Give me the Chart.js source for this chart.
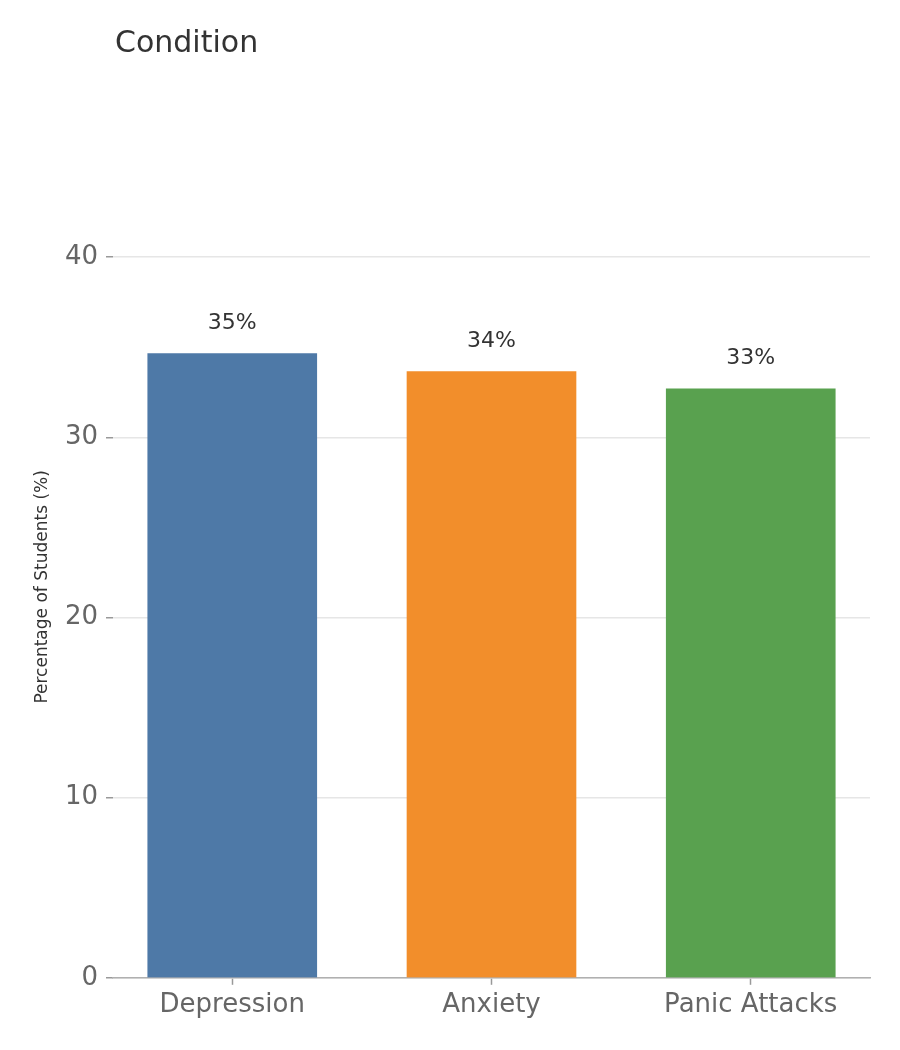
<!DOCTYPE html>
<html>
<head>
  <title>Condition</title>
  <script src="https://cdn.jsdelivr.net/npm/chart.js"></script>
  <style>
    body { margin: 0; background: #fff; }
    #wrap { width: 900px; height: 1050px; }
  </style>
</head>
<body>
  <div id="wrap"><canvas id="condChart" width="900" height="1050"></canvas></div>

  <script>
    const categories = ["Depression", "Anxiety", "Panic Attacks"];
    const percentages = [34.65, 33.65, 32.7];
    const barColors = ["#4e79a7", "#f28e2b", "#59a14f"];
    const yTicks = [0, 10, 20, 30, 40];

    const FONT = "'DejaVu Sans', sans-serif";

    // title top left + value labels over bars
    const extras = {
      id: "extras",
      afterDatasetsDraw(chart) {
        const ctx = chart.ctx;
        ctx.save();
        ctx.fillStyle = "#333";
        ctx.font = "22px " + FONT;
        ctx.textAlign = "center";
        ctx.textBaseline = "middle";
        chart.getDatasetMeta(0).data.forEach((bar, i) => {
          ctx.fillText(Math.round(percentages[i]) + "%", bar.x, bar.y - 30);
        });
        ctx.textAlign = "left";
        ctx.font = "30px " + FONT;
        ctx.fillText("Condition", chart.chartArea.left + 2, 44);
        ctx.restore();
      }
    };

    new Chart(document.getElementById("condChart"), {
      type: "bar",
      data: {
        datasets: [{
          data: categories.map((c, i) => ({ x: i, y: percentages[i] })),
          backgroundColor: barColors,
          barThickness: 169
        }]
      },
      plugins: [extras],
      options: {
        responsive: false,
        animation: false,
        layout: { padding: { top: 196, right: 30, bottom: 24, left: 0 } },
        plugins: { legend: { display: false }, tooltip: { enabled: false } },
        scales: {
          x: {
            type: "linear",
            min: -0.46,
            max: 2.46,
            offset: false,
            afterBuildTicks: s => { s.ticks = categories.map((c, i) => ({ value: i })); },
            ticks: {
              callback: v => categories[v],
              color: "#666",
              font: { family: FONT, size: 26 },
              padding: 5,
              maxRotation: 0
            },
            grid: { offset: false, drawOnChartArea: false, tickLength: 7, tickColor: "#999", tickWidth: 1.5 },
            border: { color: "#b0b0b0", width: 1.5 }
          },
          y: {
            min: 0,
            max: 43.4,
            afterBuildTicks: s => { s.ticks = yTicks.map(v => ({ value: v })); },
            afterFit: s => { s.width = 113; },
            ticks: {
              color: "#666",
              font: { family: FONT, size: 26 },
              padding: 8
            },
            grid: { color: "#e6e6e6", lineWidth: 1.5, tickLength: 7, tickColor: "#999", tickWidth: 1.5 },
            border: { display: false },
            title: {
              display: true,
              text: "Percentage of Students (%)",
              color: "#333",
              font: { family: FONT, size: 17 },
              padding: { top: 32, bottom: 0 }
            }
          }
        }
      }
    });
  </script>
</body>
</html>
